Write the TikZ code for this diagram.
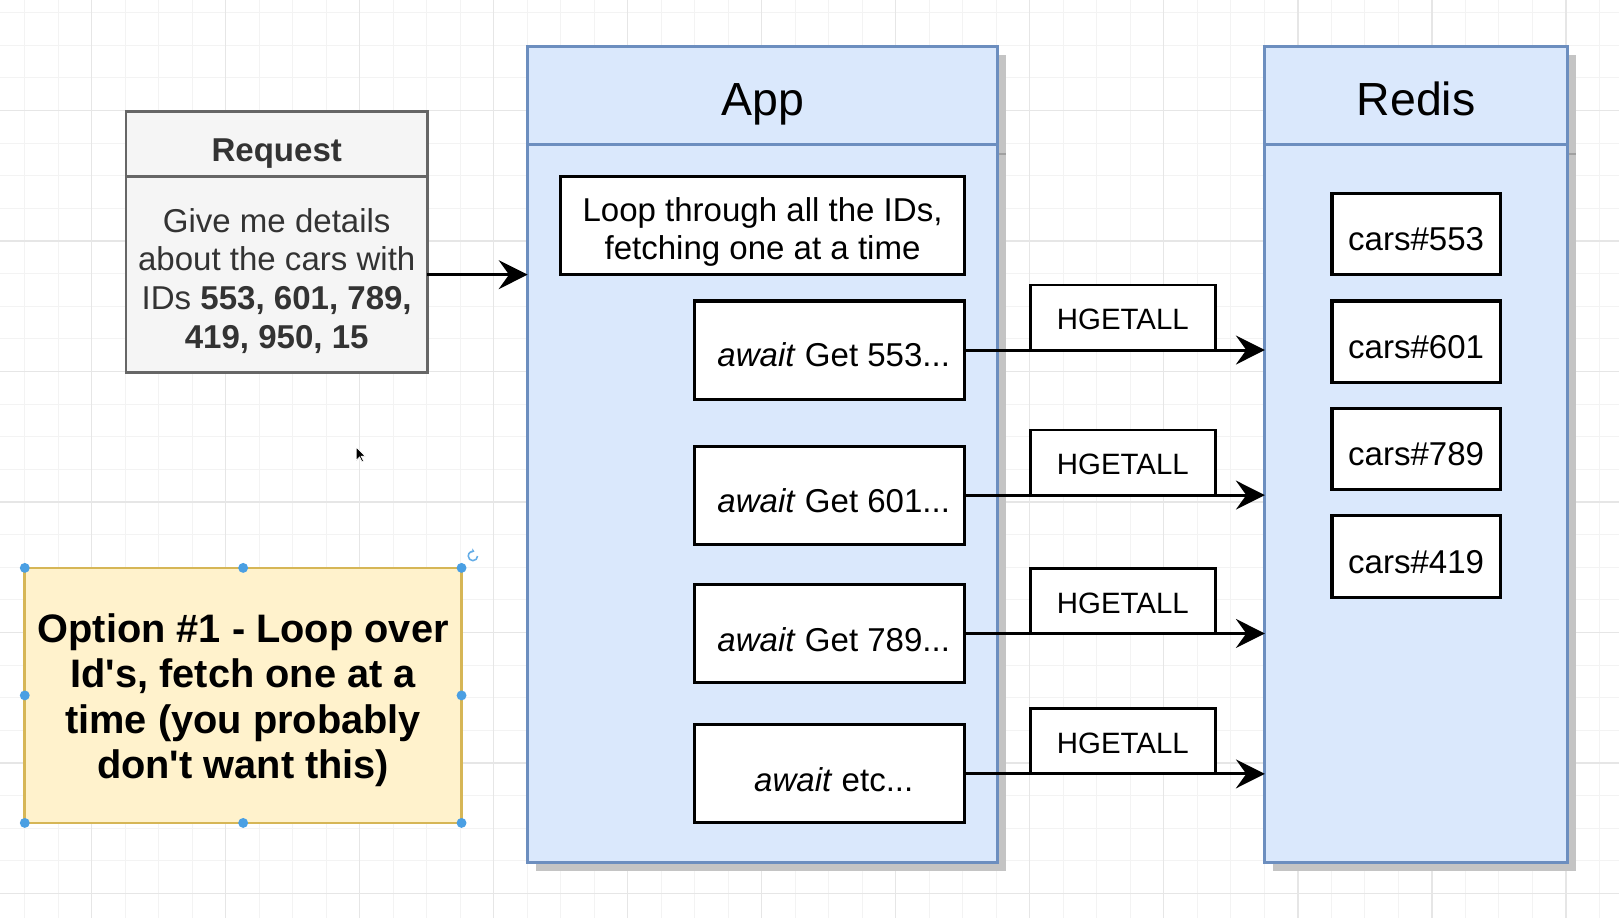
\documentclass[tikz,border=0pt]{standalone}
\usepackage{fontspec}
\newfontfamily\dfont{Liberation Sans}
\usetikzlibrary{arrows.meta}
\definecolor{appfill}{HTML}{DAE8FC}
\definecolor{appline}{HTML}{6C8EBF}
\definecolor{reqfill}{HTML}{F5F5F5}
\definecolor{reqline}{HTML}{666666}
\definecolor{notefill}{HTML}{FFF2CC}
\definecolor{noteline}{HTML}{D6B656}
\definecolor{hdl}{HTML}{4A9FE3}
\definecolor{gridminor}{HTML}{F3F3F3}
\definecolor{gridmajor}{HTML}{E6E6E6}
\definecolor{shadowc}{HTML}{C4C4C4}
\definecolor{shadowd}{HTML}{A0A0A0}
\definecolor{txtgray}{HTML}{333333}
\begin{document}
\begin{tikzpicture}[x=1pt,y=-1pt,
  every node/.style={inner sep=0pt, outer sep=0pt},
  tn/.style={font={\dfont\fontsize{32}{38}\selectfont}, anchor=base},
  tnb/.style={font={\dfont\bfseries\fontsize{32}{38}\selectfont}, anchor=base},
  th/.style={font={\dfont\fontsize{45}{52}\selectfont}, anchor=base},
  tg/.style={font={\dfont\fontsize{28.5}{34}\selectfont}, anchor=base},
  tnote/.style={font={\dfont\bfseries\fontsize{38.5}{44}\selectfont}, anchor=base},
  box/.style={draw=black, line width=3pt, fill=white},
  gbox/.style={draw=black, line width=2.7pt, fill=white},
  reqbox/.style={draw=reqline, line width=2.6pt, fill=reqfill},
  lane/.style={draw=appline, line width=3pt, fill=appfill},
  notebox/.style={draw=noteline, line width=2.6pt, fill=notefill},
  arr/.style={draw=black, line width=2.9pt, -{Stealth[length=28pt,width=28pt,inset=10pt]}},
  handle/.style={fill=hdl}
]
\useasboundingbox (0,0) rectangle (1568,889);
\fill[white] (0,0) rectangle (1568,889);
% grid
\foreach \i in {0,...,47} {
  \draw[gridminor, line width=1pt] ({23.9+32.45*\i},0) -- ({23.9+32.45*\i},889);
}
\foreach \j in {0,...,27} {
  \draw[gridminor, line width=1pt] (0,{12.2+31.6*\j}) -- (1568,{12.2+31.6*\j});
}
\foreach \k in {0,...,11} {
  \draw[gridmajor, line width=1.2pt] ({88.8+129.8*\k},0) -- ({88.8+129.8*\k},889);
}
\foreach \k in {0,...,6} {
  \draw[gridmajor, line width=1.2pt] (0,{107+126.4*\k}) -- (1568,{107+126.4*\k});
}

% shadows
\fill[shadowc] (519,53) rectangle (974,844);
\draw[shadowd, line width=2pt] (966,149) -- (974,149);
\fill[shadowc] (1233,53) rectangle (1526,844);
\draw[shadowd, line width=2pt] (1518,149) -- (1526,149);

% Request
\node[reqbox, minimum width=292pt, minimum height=63pt] (reqh) at (268,139.5) {};
\node[reqbox, minimum width=292pt, minimum height=190pt] (req) at (268,266) {};
\node[tnb, text=txtgray] (treq) at (268,156.5) {Request};
\node[tn, text=txtgray] (tr1) at (268,225) {Give me details};
\node[tn, text=txtgray] (tr2) at (268,262.4) {about the cars with};
\node[tn, text=txtgray] (tr3) at (268,299.8) {IDs \textbf{553, 601, 789,}};
\node[tn, text=txtgray] (tr4) at (268,337.2) {\textbf{419, 950, 15}};

% App lane
\node[lane, minimum width=455pt, minimum height=95pt] (apph) at (738.5,92.5) {};
\node[lane, minimum width=455pt, minimum height=695pt] (app) at (738.5,487.5) {};
\node[th] (tapp) at (738.5,111.4) {App};

% Redis lane
\node[lane, minimum width=293pt, minimum height=95pt] (redish) at (1371.5,92.5) {};
\node[lane, minimum width=293pt, minimum height=695pt] (redis) at (1371.5,487.5) {};
\node[th] (tredis) at (1371.5,111.4) {Redis};

% Loop box
\node[box, minimum width=391pt, minimum height=95pt] (loop) at (738.5,218.5) {};
\node[tn] (tl1) at (738.5,214.5) {Loop through all the IDs,};
\node[tn] (tl2) at (738.5,251.5) {fetching one at a time};

% await boxes
\node[box, minimum width=261pt, minimum height=95pt] (a1) at (803.5,339) {};
\node[box, minimum width=261pt, minimum height=95pt] (a2) at (803.5,479.5) {};
\node[box, minimum width=261pt, minimum height=95pt] (a3) at (803.5,613.5) {};
\node[box, minimum width=261pt, minimum height=95pt] (a4) at (803.5,749.5) {};
\node[tn] (ta1) at (807.5,354.5) {\textit{await} Get 553...};
\node[tn] (ta2) at (807.5,496.5) {\textit{await} Get 601...};
\node[tn] (ta3) at (807.5,630.5) {\textit{await} Get 789...};
\node[tn] (ta4) at (807.5,766.5) {\textit{await} etc...};

% HGETALL boxes
\node[gbox, minimum width=179pt, minimum height=63pt] (g1) at (1087.5,307.5) {};
\node[gbox, minimum width=179pt, minimum height=63pt] (g2) at (1087.5,448) {};
\node[gbox, minimum width=179pt, minimum height=63pt] (g3) at (1087.5,582) {};
\node[gbox, minimum width=179pt, minimum height=63pt] (g4) at (1087.5,718) {};
\node[tg] (tg1) at (1087.5,319.5) {HGETALL};
\node[tg] (tg2) at (1087.5,460) {HGETALL};
\node[tg] (tg3) at (1087.5,594) {HGETALL};
\node[tg] (tg4) at (1087.5,730) {HGETALL};

% cars boxes
\node[box, minimum width=163pt, minimum height=79pt] (c1) at (1371.5,226.5) {};
\node[box, minimum width=163pt, minimum height=79pt] (c2) at (1371.5,331) {};
\node[box, minimum width=163pt, minimum height=79pt] (c3) at (1371.5,435) {};
\node[box, minimum width=163pt, minimum height=79pt] (c4) at (1371.5,539) {};
\node[tn] (tc1) at (1371.5,242.5) {cars\#553};
\node[tn] (tc2) at (1371.5,347) {cars\#601};
\node[tn] (tc3) at (1371.5,451) {cars\#789};
\node[tn] (tc4) at (1371.5,555) {cars\#419};

% connectors
\draw[arr] (req.east) -- (app.west |- req.east);
\draw[arr] (a1.east) -- (a1.east -| redis.west);
\draw[arr] (a2.east) -- (a2.east -| redis.west);
\draw[arr] (a3.east) -- (a3.east -| redis.west);
\draw[arr] (a4.east) -- (a4.east -| redis.west);

% note
\node[notebox, minimum width=423pt, minimum height=247pt] (note) at (235.5,673.5) {};
\node[tnote] (tn1) at (235.5,622.2) {Option \#1 - Loop over};
\node[tnote] (tn2) at (235.5,666.2) {Id's, fetch one at a};
\node[tnote] (tn3) at (235.5,710.2) {time (you probably};
\node[tnote] (tn4) at (235.5,754) {don't want this)};

% selection handles
\foreach \p in {(24,550),(235.5,550),(447,550),(24,673.5),(447,673.5),(24,797),(235.5,797),(447,797)} {
  \fill[handle] \p circle[radius=4.8];
}
\draw[hdl!85, line width=1.5pt, -{Stealth[length=3pt,width=4.5pt]}] (462.5,538.5) arc[start angle=0, end angle=290, radius=4.5];

% mouse cursor
\filldraw[fill=black, draw=white, line width=0.6pt] (345,433) -- (345,445.8) -- (348.2,442.6) -- (350.6,447.4) -- (352.2,446.6) -- (349.8,441.8) -- (353.8,441.8) -- cycle;
\end{tikzpicture}
\end{document}
